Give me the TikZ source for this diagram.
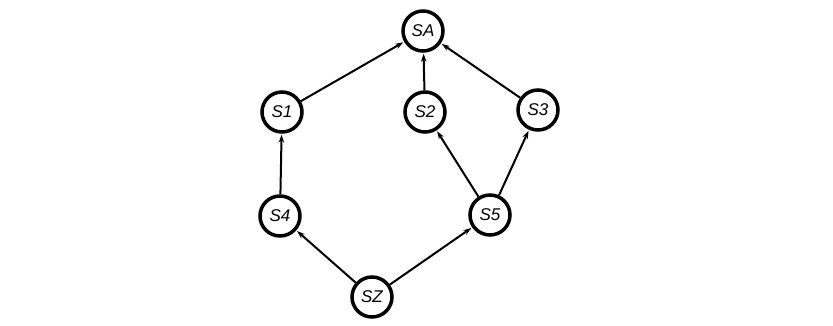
\documentclass[tikz,border=0pt]{standalone}
\usepackage{fontspec}
\setmainfont{Liberation Sans}
\usetikzlibrary{arrows.meta}
\begin{document}
\begin{tikzpicture}[x=1pt,y=-1pt,
  state/.style={circle,draw=black,line width=3.5pt,minimum size=40pt,inner sep=0pt,
    font=\fontsize{17}{17}\selectfont\itshape},
  conn/.style={line width=2pt,-{Stealth[length=8pt,width=5.5pt]},shorten >=1pt}]
\useasboundingbox (0,0) rectangle (833,326);
\node[state] (SA) at (423,31) {SA};
\node[state] (S1) at (282,112) {S1};
\node[state] (S2) at (425,112) {S2};
\node[state] (S3) at (538,110) {S3};
\node[state] (S4) at (280,216) {S4};
\node[state] (S5) at (490,215) {S5};
\node[state] (SZ) at (372,297) {SZ};
\draw[conn] (S1) -- (SA);
\draw[conn] (S2) -- (SA);
\draw[conn] (S3) -- (SA);
\draw[conn] (S4) -- (S1);
\draw[conn] (S5) -- (S2);
\draw[conn] (S5) -- (S3);
\draw[conn] (SZ) -- (S4);
\draw[conn] (SZ) -- (S5);
\end{tikzpicture}
\end{document}
